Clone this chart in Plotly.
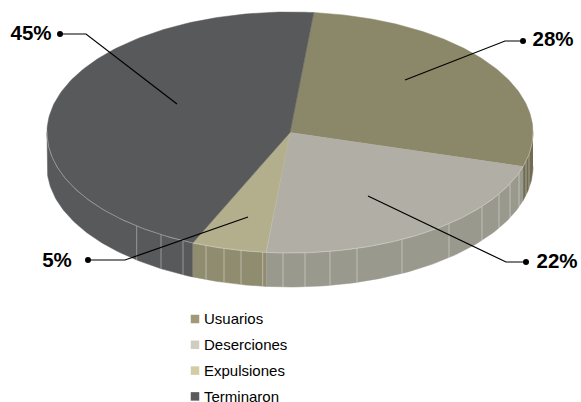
import numpy as np
import plotly.graph_objects as go

# Data
categories = ["Usuarios", "Deserciones", "Expulsiones", "Terminaron"]
values = [28, 22, 5, 45]
value_labels = ["28%", "22%", "5%", "45%"]

# Styles
top_colors = ["#8b8769", "#b1afa5", "#b3ae8c", "#58595b"]
side_colors = ["#6f6c52", "#9a998e", "#908c70", "#58595b"]
legend_colors = ["#a09a78", "#cfccc2", "#d3cca4", "#5b5b5e"]

# Layout geometry, in page pixels
CX, CY, RX, RY, DEPTH = 290, 132.5, 243, 120.5, 34
START_DEG = 5.6
ridge_x = [136.7, 161, 183, 206, 224, 241, 262.7, 283, 305, 330, 357, 402, 449, 482, 499, 510, 519, 526, 529]
callout_dot = [(523, 41), (526, 262), (88, 260), (60, 34)]
callout_elbow = [(505, 41), (506, 262), (125, 260), (86, 34)]
callout_end = [(405, 80), (368, 196), (248, 217), (177, 104)]
label_pos = [(553, 41), (557, 263), (57, 262), (31, 35)]
LEG_X, LEG_TX, LEG_Y0, LEG_DY = 195, 204, 319, 25.8


def ell(deg, dy=0.0):
    a = np.radians(deg)
    return CX + RX * np.sin(a), CY - RY * np.cos(a) + dy


fig = go.Figure()
total = sum(values)
edges = START_DEG + np.concatenate([[0], np.cumsum(values)]) * 360 / total


def poly(x, y, color):
    fig.add_trace(go.Scatter(x=list(x), y=list(y), mode="lines", fill="toself", fillcolor=color,
                             line=dict(width=0.5, color=color), hoverinfo="skip", showlegend=False))


# Side walls (only the front half, 90..270 deg clockwise from top, is visible)
for i in range(len(values)):
    a0, a1 = max(edges[i], 90), min(edges[i + 1], 270)
    if a1 <= a0:
        continue
    t = np.linspace(a0, a1, 80)
    xt, yt = ell(t)
    xb, yb = ell(t, DEPTH)
    poly(np.r_[xt, xb[::-1]], np.r_[yt, yb[::-1]], side_colors[i])

# Ridge lines on the side wall
for rx in ridge_x:
    s = (rx - CX) / RX
    yy = CY + RY * np.sqrt(1 - s * s)
    fig.add_trace(go.Scatter(x=[rx, rx], y=[yy, yy + DEPTH], mode="lines",
                             line=dict(width=1, color="rgba(255,255,255,0.38)"),
                             hoverinfo="skip", showlegend=False))

# Top slices
for i in range(len(values)):
    t = np.linspace(edges[i], edges[i + 1], 160)
    xt, yt = ell(t)
    poly(np.r_[CX, xt, CX], np.r_[CY, yt, CY], top_colors[i])

# Light rim along the front edge
t = np.linspace(90, 270, 240)
xt, yt = ell(t)
fig.add_trace(go.Scatter(x=xt, y=yt, mode="lines", line=dict(width=0.7, color="rgba(225,225,220,0.6)"),
                         hoverinfo="skip", showlegend=False))

# Callouts
for i in range(len(values)):
    px = [callout_dot[i][0], callout_elbow[i][0], callout_end[i][0]]
    py = [callout_dot[i][1], callout_elbow[i][1], callout_end[i][1]]
    fig.add_trace(go.Scatter(x=px, y=py, mode="lines", line=dict(width=1.2, color="#000000"),
                             hoverinfo="skip", showlegend=False))
    fig.add_trace(go.Scatter(x=px[:1], y=py[:1], mode="markers", marker=dict(size=6, color="#000000"),
                             hoverinfo="skip", showlegend=False))
    fig.add_trace(go.Scatter(x=[label_pos[i][0]], y=[label_pos[i][1]], mode="text", text=[value_labels[i]],
                             textposition="middle center",
                             textfont=dict(family="Liberation Sans", size=20.5, color="#000000"),
                             texttemplate="<b>%{text}</b>", hoverinfo="skip", showlegend=False))

# Legend
leg_y = [LEG_Y0 + k * LEG_DY for k in range(len(categories))]
fig.add_trace(go.Scatter(x=[LEG_X] * 4, y=leg_y, mode="markers", cliponaxis=False,
                         marker=dict(symbol="square", size=8.5, color=legend_colors),
                         hoverinfo="skip", showlegend=False))
fig.add_trace(go.Scatter(x=[LEG_TX] * 4, y=[v + 1.5 for v in leg_y], mode="text", text=categories, cliponaxis=False,
                         textposition="middle right",
                         textfont=dict(family="Liberation Sans", size=15, color="#000000"),
                         hoverinfo="skip", showlegend=False))

fig.update_layout(width=581, height=402, margin=dict(l=0, r=0, t=0, b=0),
                  paper_bgcolor="#ffffff", plot_bgcolor="#ffffff", showlegend=False,
                  xaxis=dict(range=[0, 581], visible=False, fixedrange=True),
                  yaxis=dict(range=[402, 0], visible=False, fixedrange=True))
fig.write_html("out.html", config={"displayModeBar": False},
               post_script="document.body.style.margin='0';document.body.style.overflow='hidden';")
